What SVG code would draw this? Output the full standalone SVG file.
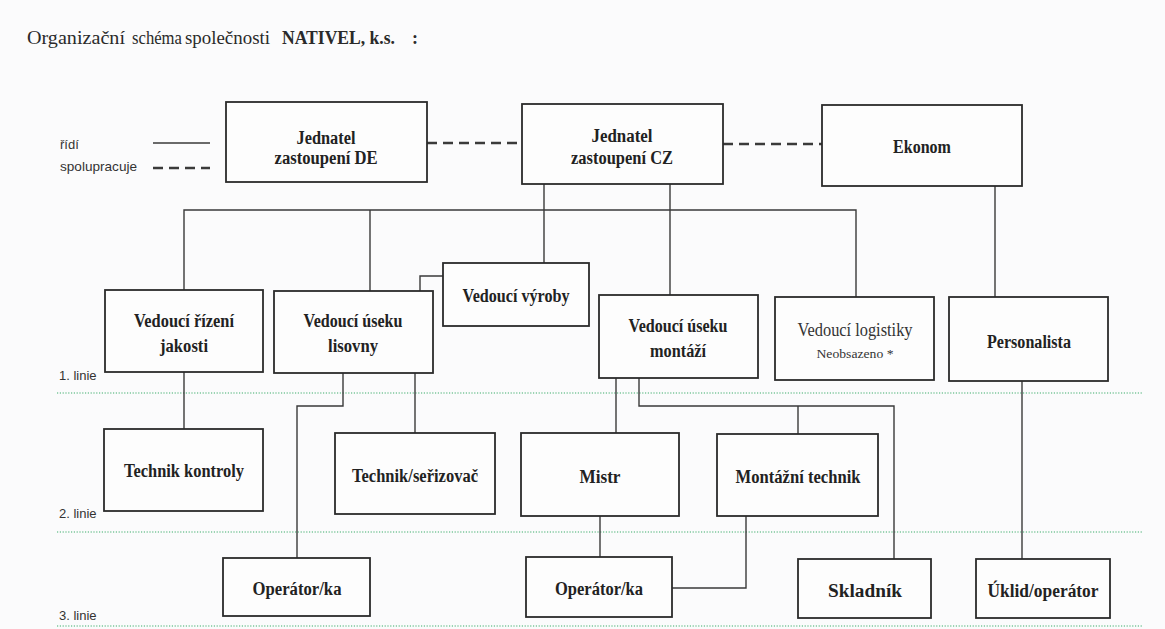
<svg xmlns="http://www.w3.org/2000/svg" width="1165" height="629" viewBox="0 0 1165 629">
  <style>
    .bg { fill: #fbfbfc; }
    .box { fill: #fdfdfd; stroke: #2b2b2b; stroke-width: 1.8; }
    .lbl { font-family: "Liberation Serif", "Times New Roman", serif; font-size: 18px; font-weight: bold; fill: #222; text-anchor: middle; }
    .reg { font-family: "Liberation Serif", "Times New Roman", serif; font-size: 18px; fill: #333; text-anchor: middle; }
    .small { font-family: "Liberation Serif", "Times New Roman", serif; font-size: 13px; fill: #333; text-anchor: middle; }
    .title { font-family: "Liberation Serif", "Times New Roman", serif; font-size: 18px; fill: #2a2a2a; }
    .side { font-family: "Liberation Sans", Arial, sans-serif; font-size: 13px; fill: #333; }
    .link { fill: none; stroke: #3a3a3a; stroke-width: 1.4; }
    .coop { fill: none; stroke: #3a3a3a; stroke-width: 2.6; stroke-dasharray: 10 6; }
    .level { fill: none; stroke: #7cc79b; stroke-width: 1.6; stroke-dasharray: 1.2 1.6; }
  </style>

  <rect class="bg" x="0" y="0" width="1165" height="629"/>

  <!-- heading -->
  <g id="heading">
    <text class="title" x="27" y="44" textLength="98" lengthAdjust="spacingAndGlyphs">Organizační</text>
    <text class="title" x="132" y="44" textLength="50" lengthAdjust="spacingAndGlyphs">schéma</text>
    <text class="title" x="185" y="44" textLength="85" lengthAdjust="spacingAndGlyphs">společnosti</text>
    <text class="title" x="282" y="44" font-weight="bold" textLength="113" lengthAdjust="spacingAndGlyphs">NATIVEL, k.s.</text>
    <text class="title" x="412" y="44" font-weight="bold">:</text>
  </g>

  <!-- legend -->
  <g id="legend">
    <text class="side" x="60" y="149">řídí</text>
    <text class="side" x="60" y="171" textLength="77" lengthAdjust="spacingAndGlyphs">spolupracuje</text>
    <line class="link" x1="153" y1="143" x2="210" y2="143" stroke-width="2.4"/>
    <line class="coop" x1="153" y1="168" x2="210" y2="168"/>
  </g>

  <!-- management levels -->
  <g id="levels">
    <text class="side" x="59" y="380">1. linie</text>
    <line class="level" x1="57" y1="393" x2="1143" y2="393"/>
    <text class="side" x="59" y="518">2. linie</text>
    <line class="level" x1="57" y1="532" x2="1143" y2="532"/>
    <text class="side" x="59" y="620">3. linie</text>
    <line class="level" x1="57" y1="626" x2="1143" y2="626"/>
  </g>

  <!-- connectors -->
  <g id="connectors">
    <line class="coop" x1="427" y1="143" x2="522" y2="143"/>
    <line class="coop" x1="723" y1="144" x2="822" y2="144"/>
    <path class="link" d="M544,184 V263"/>
    <path class="link" d="M670,184 V295"/>
    <path class="link" d="M184,290 V210 H856 V297"/>
    <path class="link" d="M370,210 V291"/>
    <path class="link" d="M420,291 V276 H443"/>
    <path class="link" d="M995,186 V297"/>
    <path class="link" d="M184,372 V429"/>
    <path class="link" d="M343,373 V406 H297 V558"/>
    <path class="link" d="M415,373 V433"/>
    <path class="link" d="M616,378 V433"/>
    <path class="link" d="M639,378 V406 H894 V559"/>
    <path class="link" d="M798,406 V434"/>
    <path class="link" d="M600,516 V557"/>
    <path class="link" d="M746,516 V588 H672"/>
    <path class="link" d="M1022,381 V559"/>
  </g>

  <!-- top management -->
  <g id="jednatel-de">
    <rect class="box" x="226" y="102" width="201" height="80"/>
    <text class="lbl" x="326" y="144" textLength="59" lengthAdjust="spacingAndGlyphs">Jednatel</text>
    <text class="lbl" x="326" y="164" textLength="103" lengthAdjust="spacingAndGlyphs">zastoupení DE</text>
  </g>
  <g id="jednatel-cz">
    <rect class="box" x="522" y="104" width="201" height="80"/>
    <text class="lbl" x="622" y="142" textLength="61" lengthAdjust="spacingAndGlyphs">Jednatel</text>
    <text class="lbl" x="622" y="164" textLength="102" lengthAdjust="spacingAndGlyphs">zastoupení CZ</text>
  </g>
  <g id="ekonom">
    <rect class="box" x="822" y="105" width="200" height="81"/>
    <text class="lbl" x="922" y="153" textLength="58" lengthAdjust="spacingAndGlyphs">Ekonom</text>
  </g>

  <!-- 1st line -->
  <g id="vedouci-vyroby">
    <rect class="box" x="443" y="263" width="146" height="63"/>
    <text class="lbl" x="516" y="302" textLength="107" lengthAdjust="spacingAndGlyphs">Vedoucí výroby</text>
  </g>
  <g id="vedouci-jakosti">
    <rect class="box" x="105" y="290" width="158" height="82"/>
    <text class="lbl" x="184" y="327" textLength="100" lengthAdjust="spacingAndGlyphs">Vedoucí řízení</text>
    <text class="lbl" x="184" y="352" textLength="48" lengthAdjust="spacingAndGlyphs">jakosti</text>
  </g>
  <g id="vedouci-lisovny">
    <rect class="box" x="274" y="291" width="159" height="82"/>
    <text class="lbl" x="353" y="327" textLength="99" lengthAdjust="spacingAndGlyphs">Vedoucí úseku</text>
    <text class="lbl" x="353" y="352" textLength="50" lengthAdjust="spacingAndGlyphs">lisovny</text>
  </g>
  <g id="vedouci-montaze">
    <rect class="box" x="599" y="295" width="159" height="83"/>
    <text class="lbl" x="678" y="332" textLength="99" lengthAdjust="spacingAndGlyphs">Vedoucí úseku</text>
    <text class="lbl" x="678" y="357" textLength="56" lengthAdjust="spacingAndGlyphs">montáží</text>
  </g>
  <g id="vedouci-logistiky">
    <rect class="box" x="775" y="297" width="159" height="83"/>
    <text class="reg" x="855" y="336" textLength="115" lengthAdjust="spacingAndGlyphs">Vedoucí logistiky</text>
    <text class="small" x="855" y="358" textLength="77" lengthAdjust="spacingAndGlyphs">Neobsazeno *</text>
  </g>
  <g id="personalista">
    <rect class="box" x="949" y="297" width="159" height="84"/>
    <text class="lbl" x="1029" y="348" textLength="84" lengthAdjust="spacingAndGlyphs">Personalista</text>
  </g>

  <!-- 2nd line -->
  <g id="technik-kontroly">
    <rect class="box" x="104" y="429" width="159" height="82"/>
    <text class="lbl" x="184" y="477" textLength="120" lengthAdjust="spacingAndGlyphs">Technik kontroly</text>
  </g>
  <g id="technik-serizovac">
    <rect class="box" x="335" y="433" width="160" height="81"/>
    <text class="lbl" x="415" y="482" textLength="126" lengthAdjust="spacingAndGlyphs">Technik/seřizovač</text>
  </g>
  <g id="mistr">
    <rect class="box" x="521" y="433" width="158" height="83"/>
    <text class="lbl" x="600" y="483" textLength="41" lengthAdjust="spacingAndGlyphs">Mistr</text>
  </g>
  <g id="montazni-technik">
    <rect class="box" x="717" y="434" width="161" height="82"/>
    <text class="lbl" x="798" y="483" textLength="125" lengthAdjust="spacingAndGlyphs">Montážní technik</text>
  </g>

  <!-- 3rd line -->
  <g id="operator-lisovna">
    <rect class="box" x="223" y="558" width="147" height="58"/>
    <text class="lbl" x="297" y="595" textLength="89" lengthAdjust="spacingAndGlyphs">Operátor/ka</text>
  </g>
  <g id="operator-montaz">
    <rect class="box" x="526" y="557" width="146" height="60"/>
    <text class="lbl" x="599" y="595" textLength="88" lengthAdjust="spacingAndGlyphs">Operátor/ka</text>
  </g>
  <g id="skladnik">
    <rect class="box" x="798" y="559" width="133" height="59"/>
    <text class="lbl" x="865" y="597" textLength="74" lengthAdjust="spacingAndGlyphs">Skladník</text>
  </g>
  <g id="uklid">
    <rect class="box" x="976" y="559" width="134" height="59"/>
    <text class="lbl" x="1043" y="597" textLength="111" lengthAdjust="spacingAndGlyphs">Úklid/operátor</text>
  </g>
</svg>
